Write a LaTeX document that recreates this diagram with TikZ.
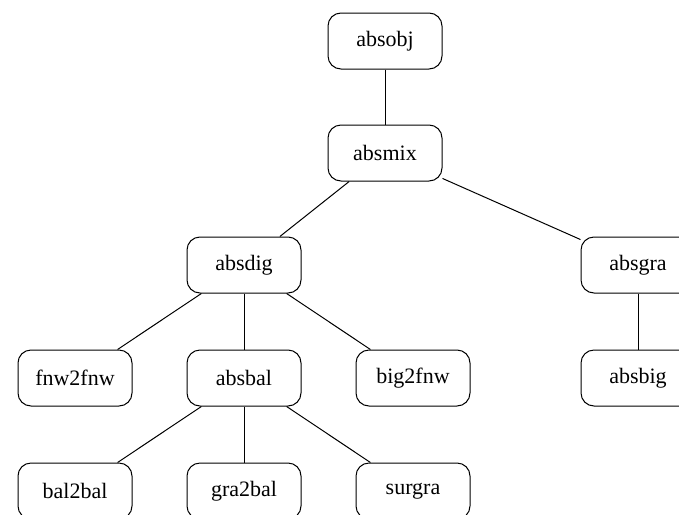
\documentclass[tikz,border=0pt]{standalone}
\usepackage{fontspec}
\setmainfont{Liberation Serif}
\begin{document}
\begin{tikzpicture}[x=1pt,y=-1pt,
  box/.style={draw, rounded corners=13pt, minimum width=114pt, minimum height=56pt,
    inner sep=0pt, font=\fontsize{22}{26}\selectfont, line width=1pt},
  link/.style={draw, line width=1pt}]
  \useasboundingbox (0,0) rectangle (679,514);
  \clip (0,0) rectangle (679,514);
  % class hierarchy
  \node[box] (absobj)  at (385,41)  {absobj};
  \node[box] (absmix)  at (385,153) {absmix};
  \node[box] (absdig)  at (244,265) {absdig};
  \node[box] (absgra)  at (638,265) {absgra};
  \node[box] (fnw2fnw) at (75,378)  {fnw2fnw};
  \node[box] (absbal)  at (244,378) {absbal};
  \node[box] (big2fnw) at (413,378) {big2fnw};
  \node[box] (absbig)  at (638,378) {absbig};
  \node[box] (bal2bal) at (75,491)  {bal2bal};
  \node[box] (gra2bal) at (244,491) {gra2bal};
  \node[box] (surgra)  at (413,491) {surgra};
  % inheritance links
  \draw[link] (absobj) -- (absmix);
  \draw[link] (absmix) -- (absdig);
  \draw[link] (absmix) -- (absgra);
  \draw[link] (absdig) -- (fnw2fnw);
  \draw[link] (absdig) -- (absbal);
  \draw[link] (absdig) -- (big2fnw);
  \draw[link] (absgra) -- (absbig);
  \draw[link] (absbal) -- (bal2bal);
  \draw[link] (absbal) -- (gra2bal);
  \draw[link] (absbal) -- (surgra);
\end{tikzpicture}
\end{document}
